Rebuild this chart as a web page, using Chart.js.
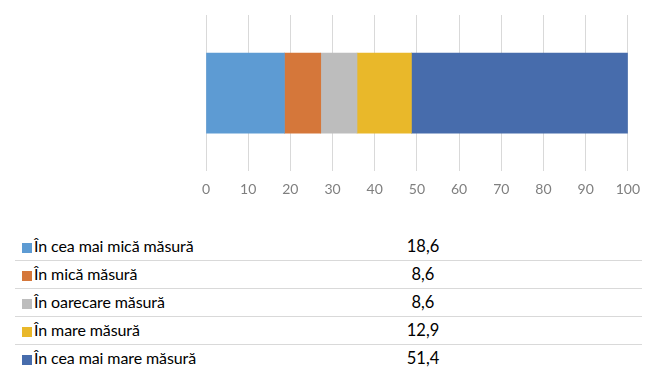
<!DOCTYPE html>
<html>
<head>
<meta charset="utf-8">
<script src="https://cdn.jsdelivr.net/npm/chart.js@4/dist/chart.umd.min.js"></script>
<style>
  html, body { margin: 0; padding: 0; background: #fff; }
  #wrap { position: relative; width: 650px; height: 387px; overflow: hidden; }
  #chartBox { position: absolute; left: 0; top: 0; width: 650px; height: 212px; }
  #table { position: absolute; left: 15px; top: 233px; width: 627px; font-family: Lato, "Open Sans", sans-serif; color: #000; }
  .row { position: relative; height: 28px; border-bottom: 1px solid #d9d9d9; box-sizing: border-box; }
  .row:last-child { border-bottom: none; }
  .sw { position: absolute; left: 7px; top: 10px; width: 10px; height: 10px; }
  .lbl { position: absolute; left: 19px; top: 3px; font-size: 16px; letter-spacing: -0.1px; white-space: nowrap; }
  .val { position: absolute; left: 365px; width: 86px; top: 3px; font-size: 16.5px; text-align: center; }
</style>
</head>
<body>
<div id="wrap">
  <div id="chartBox"><canvas id="c"></canvas></div>
  <div id="table"></div>
</div>
<script>
const categories = ["În cea mai mică măsură", "În mică măsură", "În oarecare măsură", "În mare măsură", "În cea mai mare măsură"];
const values = [18.6, 8.6, 8.6, 12.9, 51.4];
const valueLabels = ["18,6", "8,6", "8,6", "12,9", "51,4"];
const colors = ["#5d9bd3", "#d5773a", "#bdbdbd", "#e9b82a", "#476cac"];
const xTicks = [0, 10, 20, 30, 40, 50, 60, 70, 80, 90, 100];

const datasets = categories.map((name, i) => ({
  label: name,
  data: [values[i]],
  backgroundColor: colors[i],
  borderWidth: 0,
  barThickness: 80
}));

new Chart(document.getElementById('c'), {
  type: 'bar',
  data: { labels: [""], datasets },
  options: {
    indexAxis: 'y',
    responsive: true,
    maintainAspectRatio: false,
    animation: false,
    layout: { padding: { left: 206, right: 20, top: 15, bottom: 4 } },
    plugins: { legend: { display: false }, tooltip: { enabled: false } },
    scales: {
      x: {
        stacked: true,
        min: xTicks[0],
        max: xTicks[xTicks.length - 1],
        afterBuildTicks: (axis) => { axis.ticks = xTicks.map(v => ({ value: v })); },
        grid: { color: '#d9d9d9', lineWidth: 1, drawTicks: false },
        border: { display: false },
        ticks: { color: '#7f7f7f', font: { family: 'Lato, "Open Sans", sans-serif', size: 14 }, padding: 10, maxRotation: 0 }
      },
      y: {
        stacked: true,
        display: false
      }
    }
  }
});

const table = document.getElementById('table');
categories.forEach((name, i) => {
  const row = document.createElement('div');
  row.className = 'row';
  row.innerHTML = '<div class="sw" style="background:' + colors[i] + '"></div>' +
    '<div class="lbl">' + name + '</div>' +
    '<div class="val">' + valueLabels[i] + '</div>';
  table.appendChild(row);
});
</script>
</body>
</html>
